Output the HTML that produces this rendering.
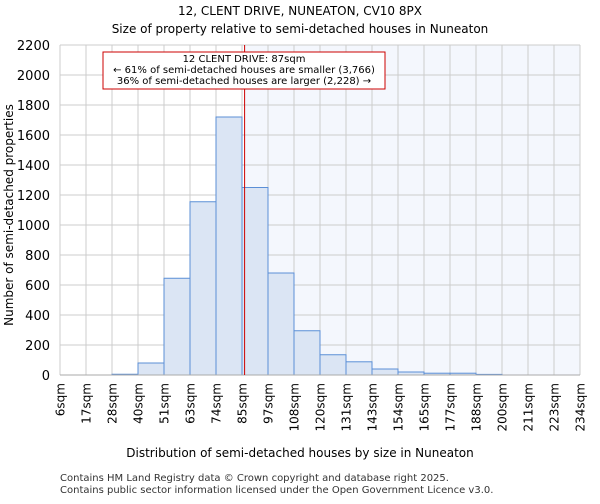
<!DOCTYPE html>
<html><head><meta charset="utf-8"><style>
body{margin:0;background:#fff;font-family:"DejaVu Sans","Liberation Sans",sans-serif;}
svg text{font-family:"DejaVu Sans","Liberation Sans",sans-serif;}
</style></head><body>
<svg id="c" width="600" height="500" xmlns="http://www.w3.org/2000/svg">
<text x="300" y="15" text-anchor="middle" font-size="12">12, CLENT DRIVE, NUNEATON, CV10 8PX</text>
<text x="300" y="33" text-anchor="middle" font-size="12">Size of property relative to semi-detached houses in Nuneaton</text>
<g id="plot"></g>
<text x="300" y="457" text-anchor="middle" font-size="12">Distribution of semi-detached houses by size in Nuneaton</text>
<text x="13" y="215" text-anchor="middle" font-size="12" transform="rotate(-90 13 215)">Number of semi-detached properties</text>
<text x="60" y="481" font-size="10" fill="#333">Contains HM Land Registry data © Crown copyright and database right 2025.</text>
<text x="60" y="493" font-size="10" fill="#333">Contains public sector information licensed under the Open Government Licence v3.0.</text>
</svg>
<script>
const binLabels=["6sqm","17sqm","28sqm","40sqm","51sqm","63sqm","74sqm","85sqm","97sqm","108sqm","120sqm","131sqm","143sqm","154sqm","165sqm","177sqm","188sqm","200sqm","211sqm","223sqm","234sqm"];
const counts=[0,0,5,80,645,1155,1720,1250,680,295,135,88,40,20,12,12,4,0,0,0];
const yTicks=[0,200,400,600,800,1000,1200,1400,1600,1800,2000,2200];
const markerBin=7.1;
const NS="http://www.w3.org/2000/svg";
const L=60,R=580,T=45,B=375,yMax=2200;
const n=counts.length,bw=(R-L)/n;
const xs=i=>L+i*bw;
const ys=v=>B-(v/yMax)*(B-T);
const g=document.getElementById('plot');
function mk(t,a){const e=document.createElementNS(NS,t);for(const k in a)e.setAttribute(k,a[k]);g.appendChild(e);return e;}
const mx=xs(markerBin);
let e=mk('rect',{x:mx,y:T,width:R-mx,height:B-T,fill:"#f4f7fd"});


yTicks.forEach(v=>{
  let l=mk('line',{x1:L,x2:R,y1:ys(v),y2:ys(v),stroke:"#ccc","stroke-width":1});
  
  
  let t=mk('text',{x:L-10,y:ys(v)+5,"text-anchor":"end","font-size":13});
  t.textContent=v;
  
  
});
binLabels.forEach((s,i)=>{
  let l=mk('line',{x1:xs(i),x2:xs(i),y1:T,y2:B,stroke:"#ccc","stroke-width":1});
  
  
  let t=mk('text',{x:xs(i)+4.5,y:B+8,"text-anchor":"end","font-size":12,transform:`rotate(-90 ${xs(i)+4.5} ${B+8})`});
  t.textContent=s;
  
  
});
counts.forEach((v,i)=>{
  if(v<=0)return;
  let r=mk('rect',{x:xs(i),y:ys(v),width:bw,height:B-ys(v),fill:"#dbe5f4",stroke:"#5b8fd6","stroke-width":1});
  
  
});
let ax=mk('line',{x1:L,x2:R,y1:B,y2:B,stroke:"#aaa"});


let ml=mk('line',{x1:mx,x2:mx,y1:T,y2:B,stroke:"#cc0000","stroke-width":1});


let box=mk('rect',{x:103,y:52,width:282,height:37,fill:"#fff",stroke:"#cc0000","stroke-width":1});


["12 CLENT DRIVE: 87sqm","← 61% of semi-detached houses are smaller (3,766)","36% of semi-detached houses are larger (2,228) →"].forEach((s,i)=>{
  let t=mk('text',{x:244,y:62+i*11,"text-anchor":"middle","font-size":10});
  t.textContent=s;
  
  
});
</script>
</body></html>
